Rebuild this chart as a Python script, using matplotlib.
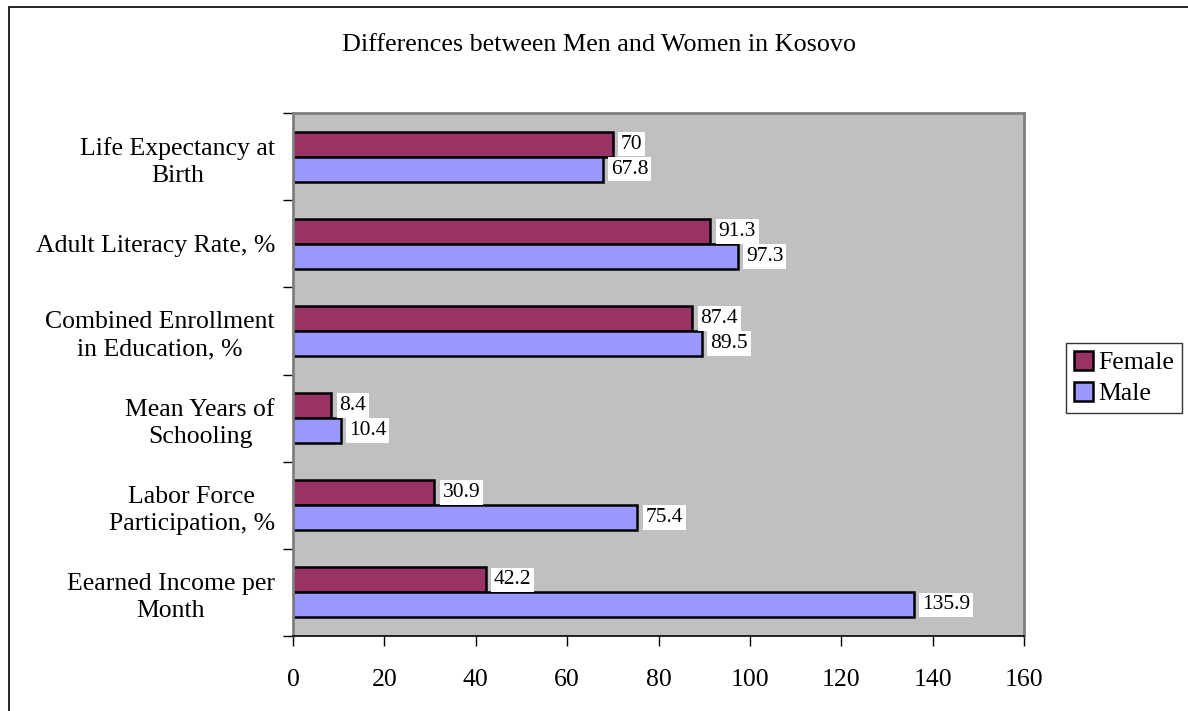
import matplotlib.pyplot as plt
import numpy as np
from matplotlib.patches import Rectangle

plt.rcParams['font.family'] = ['Liberation Serif', 'DejaVu Serif']

categories = ["Life Expectancy at\nBirth", "Adult Literacy Rate, %",
              "Combined Enrollment\nin Education, %", "Mean Years of\nSchooling",
              "Labor Force\nParticipation, %", "Eearned Income per\nMonth"]
female = [70, 91.3, 87.4, 8.4, 30.9, 42.2]
male = [67.8, 97.3, 89.5, 10.4, 75.4, 135.9]
female_labels = ["70", "91.3", "87.4", "8.4", "30.9", "42.2"]
male_labels = ["67.8", "97.3", "89.5", "10.4", "75.4", "135.9"]
xticks = [0, 20, 40, 60, 80, 100, 120, 140, 160]

fig = plt.figure(figsize=(11.88, 7.11), dpi=100)
# outer chart border (only left/top visible in the original)
fig.patches.append(Rectangle((9 / 1188, -0.05), 1.2, 1 - 7 / 711 + 0.05,
                             transform=fig.transFigure, fill=False,
                             edgecolor='black', linewidth=1.2))

ax = fig.add_axes([293 / 1188, 1 - 636 / 711, (1024 - 293) / 1188, (636 - 113) / 711])
ax.set_facecolor('#C0C0C0')

n = len(categories)
y = np.arange(n)[::-1] + 0.5
h = 0.287
ax.barh(y + h / 2, female, height=h, color='#993366', edgecolor='black', linewidth=1.8, label='Female')
ax.barh(y - h / 2, male, height=h, color='#9999FF', edgecolor='black', linewidth=1.8, label='Male')

for yi, v, s in zip(y, female, female_labels):
    ax.text(v + 1.8, yi + h / 2, s, va='center', ha='left', fontsize=15.5,
            bbox=dict(facecolor='white', edgecolor='none', pad=2))
for yi, v, s in zip(y, male, male_labels):
    ax.text(v + 1.8, yi - h / 2, s, va='center', ha='left', fontsize=15.5,
            bbox=dict(facecolor='white', edgecolor='none', pad=2))

ax.set_xlim(0, 160)
ax.set_ylim(0, n)
ax.set_xticks(xticks)
ax.tick_params(axis='x', direction='out', length=7, width=1, pad=17, labelsize=18.5)

ax.set_yticks(y)
ax.set_yticklabels(categories, fontsize=18.5, multialignment='center', linespacing=1.3)
ax.tick_params(axis='y', which='major', length=0, pad=13)
ax.set_yticks(np.arange(n + 1), minor=True)
ax.tick_params(axis='y', which='minor', direction='out', length=7, width=1)

for side in ['left', 'top', 'right']:
    ax.spines[side].set_color('#808080')
    ax.spines[side].set_linewidth(2)
ax.spines['bottom'].set_color('black')
ax.spines['bottom'].set_linewidth(1.2)

fig.text(599 / 1188, 1 - 45 / 711, "Differences between Men and Women in Kosovo",
         ha='center', va='center', fontsize=18.8)

leg = fig.legend(loc='center', bbox_to_anchor=(1124 / 1188, 1 - 378 / 711), fontsize=18.5,
                 frameon=True, fancybox=False, edgecolor='black', handlelength=0.75,
                 handleheight=0.75, handletextpad=0.2, borderpad=0.3, labelspacing=0.3,
                 borderaxespad=0)
leg.get_frame().set_linewidth(1)

fig.savefig('out.png', dpi=100)
